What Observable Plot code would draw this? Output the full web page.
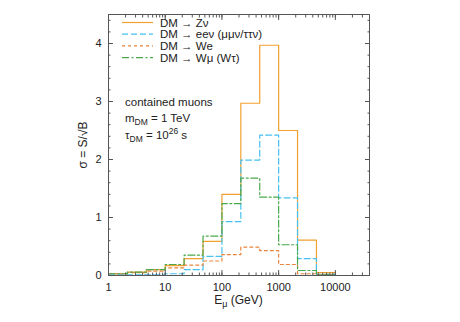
<!DOCTYPE html>
<html><head><meta charset="utf-8">
<script src="https://cdn.jsdelivr.net/npm/d3@7"></script>
<script src="https://cdn.jsdelivr.net/npm/@observablehq/plot@0.6"></script>
<style>body{margin:0;background:#fff} svg{font-family:"Liberation Sans",Arial,sans-serif}</style>
</head><body><div id="chart"></div>
<script>
// Bin edges in E_mu (GeV), three bins per decade
const binEdges = [1, 2.154, 4.642, 10, 21.54, 46.42, 100, 215.4, 464.2, 1000, 2154, 4642, 10000];
const seriesNames = ["DM → Zν", "DM → eeν (μμν/ττν)", "DM → We", "DM → Wμ (Wτ)"];
const zNu   = [0.03, 0.057, 0.10, 0.17, 0.29, 0.59, 1.40, 2.97, 3.97, 2.50, 0.61, 0.05];
const eeNu  = [0.01, 0.01, 0.01, 0.03, 0.10, 0.33, 0.93, 1.99, 2.42, 1.34, 0.29, 0.02];
const wE    = [0.03, 0.05, 0.075, 0.13, 0.18, 0.25, 0.36, 0.49, 0.43, 0.19, 0.03, 0.01];
const wMu   = [0.03, 0.057, 0.10, 0.19, 0.35, 0.68, 1.24, 1.68, 1.35, 0.53, 0.086, 0.01];
const xMajorTicks = [1, 10, 100, 1000, 10000];
const yMajorTicks = [0, 1, 2, 3, 4];
const seriesColors = ["#f2a02e", "#45c0f0", "#e8843c", "#4aa84a"];
const seriesDash = [null, "6,3", "3,3", "7,2.5,2,2.5"];

const allSeries = [zNu, eeNu, wE, wMu];
function steps(vals, idx) {
  const pts = vals.map((v, i) => ({x: binEdges[i], y: v, s: idx}));
  pts.push({x: binEdges[vals.length], y: vals[vals.length - 1], s: idx});
  pts.push({x: binEdges[vals.length], y: 0, s: idx});
  return pts;
}

const W = 460, H = 322, mL = 108, mR = 91, mT = 14, mB = 47;
const xDomain = [1, 40000], yDomain = [0, 4.5];
const xMinor = d3.scaleLog().domain(xDomain).ticks();
const yMinor = d3.range(0, 4.51, 0.2);
const frameColor = "#555";

const lineMarks = allSeries.map((vals, i) => Plot.line(steps(vals, i), {
  x: "x", y: "y", curve: "step-after", stroke: seriesColors[i],
  strokeWidth: 1.2, strokeDasharray: seriesDash[i] || undefined
}));

const plot = Plot.plot({
  width: W, height: H,
  marginLeft: mL, marginRight: mR, marginTop: mT, marginBottom: mB,
  style: {fontFamily: "Liberation Sans, Arial, sans-serif", fontSize: "11px", color: "#222", background: "#fff"},
  x: {type: "log", domain: xDomain, label: null},
  y: {domain: yDomain, label: null},
  marks: [
    ...lineMarks,
    Plot.frame({stroke: frameColor, strokeWidth: 1}),
    Plot.axisX({anchor: "bottom", ticks: xMajorTicks, tickSize: -5, tickFormat: () => "", stroke: frameColor, label: null}),
    Plot.axisX({anchor: "top", ticks: xMajorTicks, tickSize: -5, tickFormat: () => "", stroke: frameColor, label: null}),
    Plot.axisX({anchor: "bottom", ticks: xMinor, tickSize: -2.5, tickFormat: () => "", stroke: frameColor, label: null}),
    Plot.axisX({anchor: "top", ticks: xMinor, tickSize: -2.5, tickFormat: () => "", stroke: frameColor, label: null}),
    Plot.axisX({anchor: "bottom", ticks: xMajorTicks, tickSize: 0, tickPadding: 8, tickFormat: d => String(d), label: null, fill: "#222"}),
    Plot.axisY({anchor: "left", ticks: yMajorTicks, tickSize: -5, tickFormat: () => "", stroke: frameColor, label: null}),
    Plot.axisY({anchor: "right", ticks: yMajorTicks, tickSize: -5, tickFormat: () => "", stroke: frameColor, label: null}),
    Plot.axisY({anchor: "left", ticks: yMinor, tickSize: -2.5, tickFormat: () => "", stroke: frameColor, label: null}),
    Plot.axisY({anchor: "right", ticks: yMinor, tickSize: -2.5, tickFormat: () => "", stroke: frameColor, label: null}),
    Plot.axisY({anchor: "left", ticks: yMajorTicks, tickSize: 0, tickPadding: 7, tickFormat: d => String(d), label: null, fill: "#222"})
  ]
});
document.getElementById("chart").appendChild(plot);

// Legend, annotations and axis titles
const svg = d3.select(plot);
const g = svg.append("g").attr("font-size", 11.5).attr("fill", "#222").attr("text-anchor", "start");
const legendY0 = 22.5, legendStep = 11.7;
seriesNames.forEach((name, i) => {
  const y = legendY0 + i * legendStep;
  g.append("line").attr("x1", 122).attr("x2", 153).attr("y1", y).attr("y2", y)
    .attr("stroke", seriesColors[i]).attr("stroke-width", 1.2)
    .attr("stroke-dasharray", seriesDash[i]);
  g.append("text").attr("x", 160).attr("y", y).attr("dy", "0.35em").text(name);
});

const ann = svg.append("g").attr("font-size", 11.5).attr("fill", "#222").attr("text-anchor", "start");
ann.append("text").attr("x", 125).attr("y", 106).text("contained muons");
const t2 = ann.append("text").attr("x", 125).attr("y", 122);
t2.append("tspan").text("m");
t2.append("tspan").attr("font-size", 8.5).attr("dy", 3).text("DM");
t2.append("tspan").attr("dy", -3).text(" = 1 TeV");
const t3 = ann.append("text").attr("x", 125).attr("y", 139);
t3.append("tspan").text("τ");
t3.append("tspan").attr("font-size", 8.5).attr("dy", 3).text("DM");
t3.append("tspan").attr("dy", -3).text(" = 10");
t3.append("tspan").attr("font-size", 8.5).attr("dy", -5).text("26");
t3.append("tspan").attr("dy", 5).text(" s");

const xl = svg.append("text").attr("x", (mL + W - mR) / 2).attr("y", 304)
  .attr("text-anchor", "middle").attr("font-size", 12).attr("fill", "#222");
xl.append("tspan").text("E");
xl.append("tspan").attr("font-size", 9).attr("dy", 3).text("μ");
xl.append("tspan").attr("dy", -3).text(" (GeV)");

svg.append("text").attr("transform", "translate(87,145) rotate(-90)")
  .attr("text-anchor", "middle").attr("font-size", 12).attr("fill", "#222")
  .text("σ = S/√B");
</script>
</body></html>
